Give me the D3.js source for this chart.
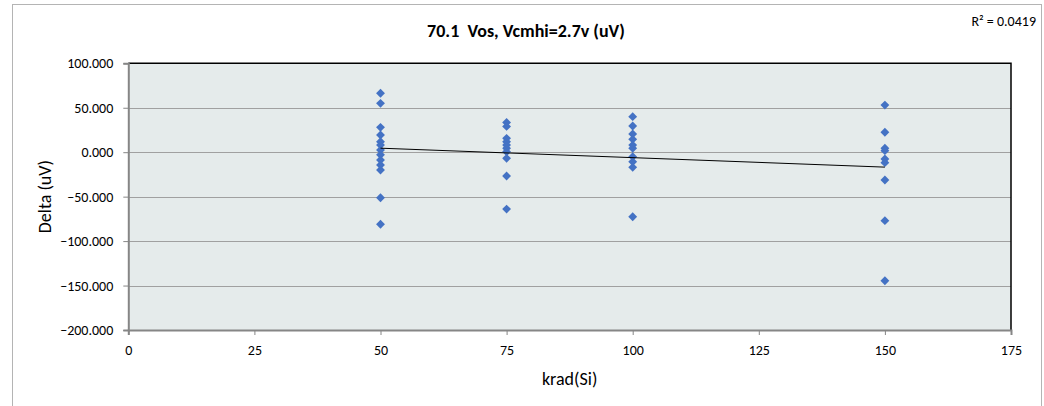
<!DOCTYPE html>
<html><head><meta charset="utf-8">
<script src="https://cdn.jsdelivr.net/npm/d3@7"></script>
<style>
body{margin:0;background:#fff;}
svg text{font-family:Carlito,"Liberation Sans",Arial,sans-serif;fill:#000;white-space:pre;}
</style></head>
<body><svg id="c" width="1044" height="406"></svg>
<script>
const title = "70.1  Vos, Vcmhi=2.7v (uV)";
const xLabel = "krad(Si)";
const yLabel = "Delta (uV)";
const rSquaredLabel = "R\u00B2 = 0.0419";
const xTicks = [0, 25, 50, 75, 100, 125, 150, 175];
const yTicks = [100, 50, 0, -50, -100, -150, -200];
const krad = [
  50,50,50,50,50,50,50,50,50,50,50,50,50,
  75,75,75,75,75,75,75,75,75,75,
  100,100,100,100,100,100,100,100,100,100,
  150,150,150,150,150,150,150,150,150
];
const delta = [
  66.3,55.0,28.0,19.3,11.8,8.0,2.5,-3.0,-8.8,-14.4,-20.0,-51.2,-81.0,
  33.5,29.0,15.6,11.8,8.0,4.4,0.5,-6.9,-26.8,-64.0,
  40.0,29.5,20.5,14.5,8.0,4.4,-5.0,-10.7,-17.0,-72.6,
  53.0,22.4,4.4,1.7,-7.7,-11.8,-31.3,-77.0,-144.6
];

const svg = d3.select("#c");
const L = 128.3, R = 1011, T = 63.3, B = 330;
const x = d3.scaleLinear().domain([0,175]).range([L,R]);
const y = d3.scaleLinear().domain([-200,100]).range([B,T]);

// outer chart border
svg.append("rect").attr("x",12.5).attr("y",4.5).attr("width",1029).attr("height",420)
  .attr("fill","#fff").attr("stroke","#b4b4b4").attr("stroke-width",1);

// plot area
svg.append("rect").attr("x",L).attr("y",T).attr("width",R-L).attr("height",B-T)
  .attr("fill","#e5ebeb");

// gridlines
svg.append("g").selectAll("line").data(yTicks.filter(d=>d>-200 && d<100)).join("line")
  .attr("x1",L).attr("x2",R).attr("y1",d=>Math.round(y(d))+0.5).attr("y2",d=>Math.round(y(d))+0.5)
  .attr("stroke","#a0a0a0").attr("stroke-width",1);

// top & right border black
svg.append("path").attr("d",`M${L},${T}H${R}V${B}`).attr("fill","none")
  .attr("stroke","#000").attr("stroke-width",1.5);

// axes
const yAxis = d3.axisLeft(y).tickValues(yTicks).tickSize(5).tickFormat(d3.format(".3f"));
const gy = svg.append("g").attr("transform",`translate(${L},0)`).call(yAxis);
const xAxis = d3.axisBottom(x).tickValues(xTicks).tickSize(5).tickFormat(d3.format("d"));
const gx = svg.append("g").attr("transform",`translate(0,${B})`).call(xAxis);
[gx,gy].forEach(g=>{
  g.select(".domain").attr("stroke","#868686").attr("stroke-width",2);
  g.selectAll(".tick line").attr("stroke","#868686");
  g.selectAll(".tick text").attr("font-size",14).attr("fill","#000")
    .attr("font-family",'Carlito,"Liberation Sans",Arial,sans-serif');
});
gy.selectAll(".tick text").attr("x",-15);
gx.selectAll(".tick text").attr("y",15);

// points
const pts = krad.map((k,i)=>({k, v:delta[i]}));
const diamond = d3.symbol().type(d3.symbolDiamond2).size(50);
svg.append("g").selectAll("path").data(pts).join("path")
  .attr("d",diamond)
  .attr("transform",d=>`translate(${x(d.k)},${y(d.v)})`)
  .attr("fill","#4472c4");

// linear trendline (least squares)
const mx = d3.mean(pts,d=>d.k), my = d3.mean(pts,d=>d.v);
const sxy = d3.sum(pts,d=>(d.k-mx)*(d.v-my)), sxx = d3.sum(pts,d=>(d.k-mx)**2);
const slope = sxy/sxx, icpt = my - slope*mx;
const [x0,x1] = d3.extent(krad);
svg.append("line").attr("x1",x(x0)).attr("y1",y(icpt+slope*x0))
  .attr("x2",x(x1)).attr("y2",y(icpt+slope*x1)).attr("stroke","#000").attr("stroke-width",1);

// texts
svg.append("text").attr("x",526).attr("y",37).attr("text-anchor","middle")
  .attr("font-size",18).attr("font-weight","bold").text(title);
svg.append("text").attr("x",1036).attr("y",26).attr("text-anchor","end")
  .attr("font-size",14).text(rSquaredLabel);
svg.append("text").attr("x",(L+R)/2).attr("y",385).attr("text-anchor","middle")
  .attr("font-size",18).text(xLabel);
svg.append("text").attr("transform",`translate(51,${(T+B)/2}) rotate(-90)`)
  .attr("text-anchor","middle").attr("font-size",18).text(yLabel);
</script></body></html>
